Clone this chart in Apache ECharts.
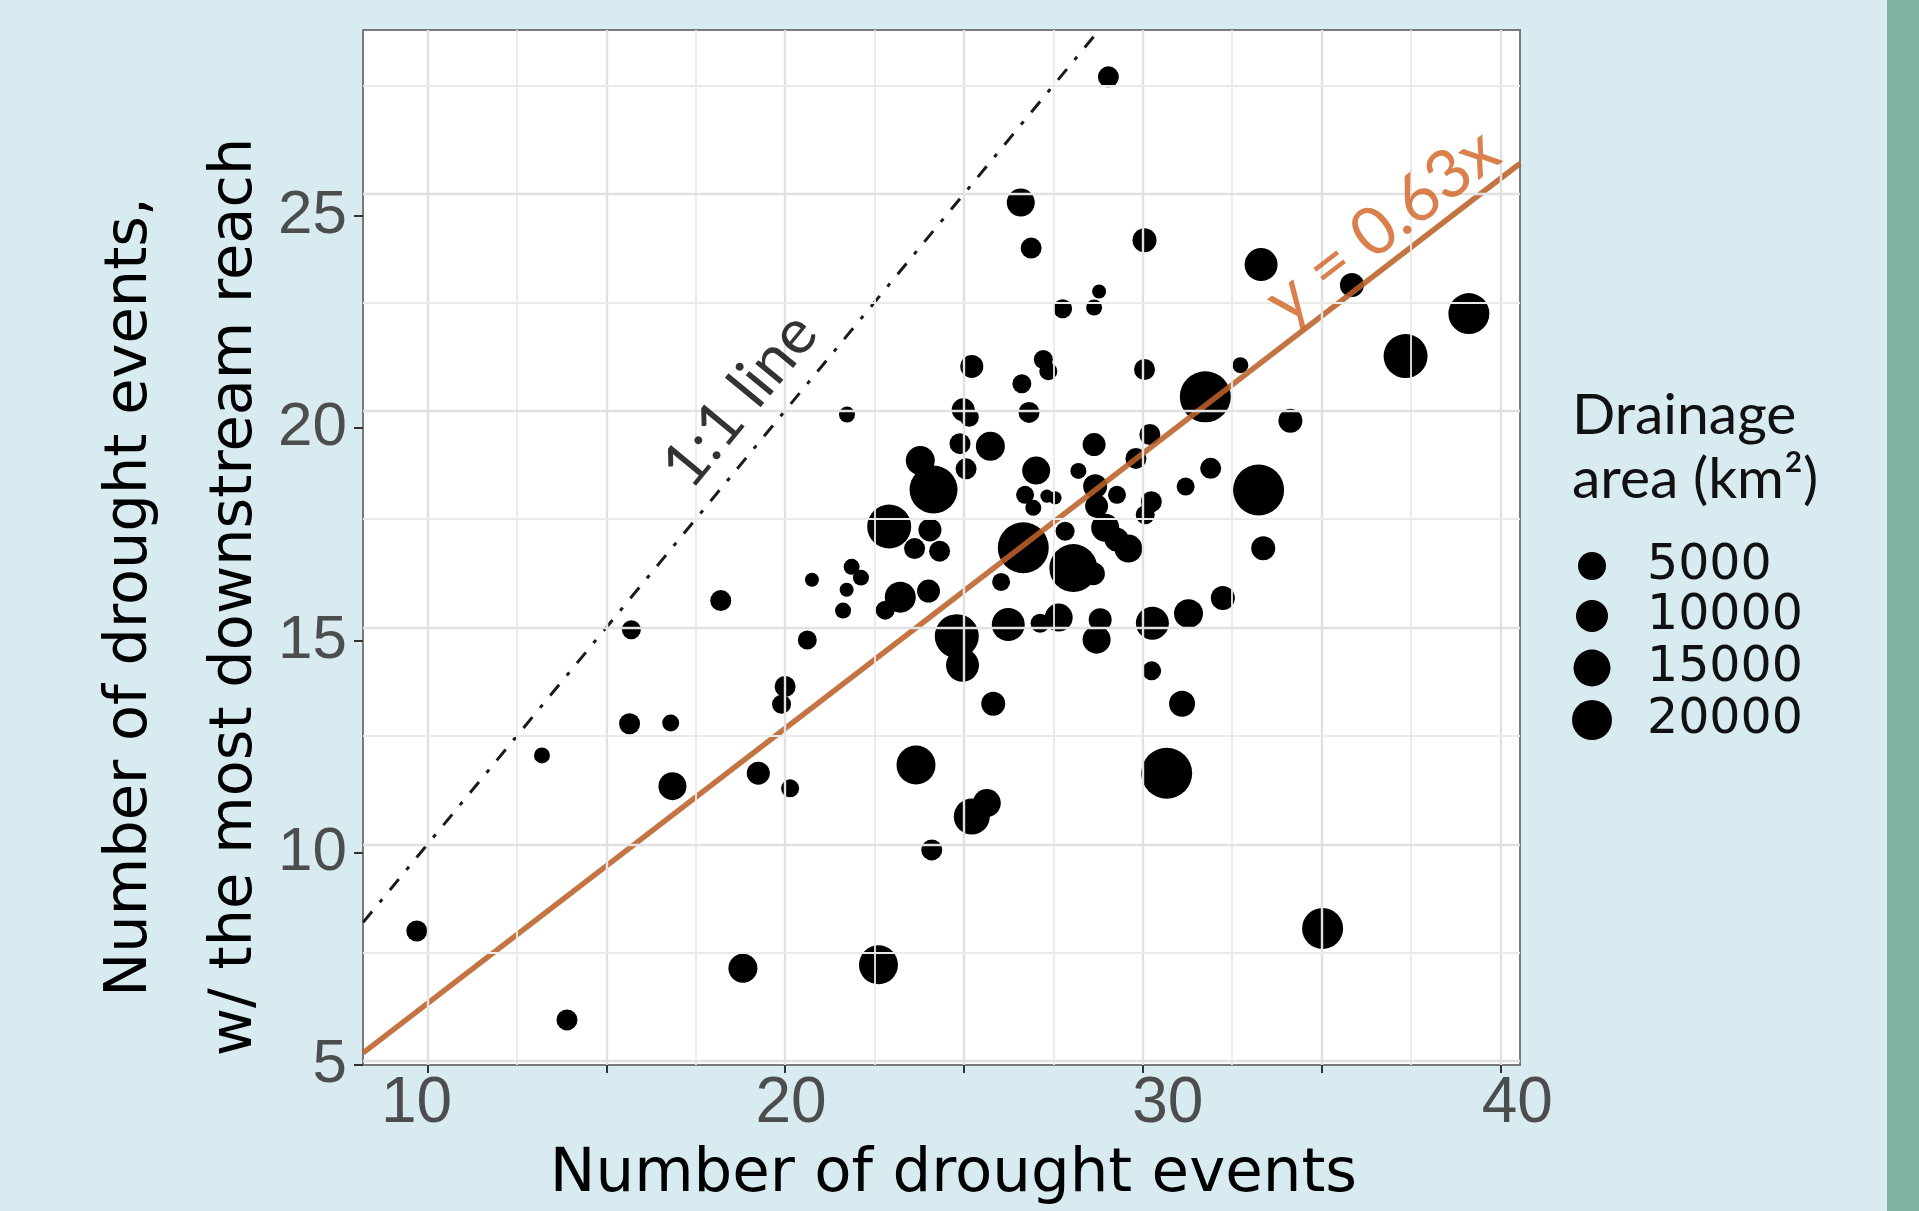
<!DOCTYPE html>
<html>
<head>
<meta charset="utf-8">
<script src="https://cdn.jsdelivr.net/npm/echarts@6/dist/echarts.min.js"></script>
<style>
html,body{margin:0;padding:0;background:#D7EBF0;}
#chart{width:1919px;height:1211px;}
</style>
</head>
<body>
<div id="chart"></div>
<script>
// ---- data ----
const xs = [9.7, 13.2, 13.9, 15.7, 15.65, 16.8, 16.85, 18.2, 18.82, 19.25,
  20.14, 20.0, 19.9, 20.62, 20.75, 21.86, 22.12, 21.72, 21.62, 21.73,
  22.8, 23.22, 24.01, 22.91, 24.05, 23.62, 24.32, 23.78, 24.15, 24.89,
  25.06, 25.74, 24.98, 25.15, 25.22, 23.66, 25.22, 25.64, 24.1, 22.61,
  24.8, 24.96, 25.82, 26.24, 27.13, 27.65, 26.04, 26.66, 28.06, 28.62,
  27.83, 28.95, 29.27, 29.6, 26.71, 26.94, 27.32, 27.55, 27.02, 28.2,
  28.67, 28.71, 28.64, 26.62, 26.82, 27.22, 27.36, 27.76, 28.64, 28.78,
  26.88, 26.59, 29.04, 30.05, 30.05, 30.2, 29.81, 29.28, 30.24, 30.07,
  31.2, 31.9, 31.75, 32.73, 34.13, 33.31, 35.85, 39.12, 37.35, 33.24,
  33.37, 28.81, 28.71, 30.27, 31.28, 32.24, 30.25, 31.1, 30.67, 35.03];
const ys = [8.0, 12.05, 5.95, 14.95, 12.78, 12.8, 11.34, 15.62, 7.14, 11.64,
  11.29, 13.64, 13.23, 14.71, 16.1, 16.4, 16.15, 15.87, 15.39, 19.91,
  15.4, 15.7, 15.84, 17.33, 17.25, 16.82, 16.76, 18.85, 18.18, 19.24,
  18.66, 19.18, 20.02, 19.85, 21.02, 11.83, 10.64, 10.95, 9.87, 7.22,
  14.8, 14.13, 13.24, 15.07, 15.1, 15.23, 16.05, 16.84, 16.37, 16.24,
  17.22, 17.3, 17.03, 16.82, 18.06, 17.76, 18.03, 17.99, 18.62, 18.61,
  18.26, 17.8, 19.22, 20.62, 19.96, 21.18, 20.91, 22.35, 22.38, 22.75,
  23.75, 24.8, 27.7, 23.93, 20.95, 19.45, 18.9, 18.06, 17.9, 17.6,
  18.25, 18.67, 20.32, 21.05, 19.77, 23.37, 22.9, 22.24, 21.26, 18.17,
  16.83, 15.18, 14.72, 15.1, 15.32, 15.68, 14.0, 13.24, 11.64, 8.06];
const areas = [1600, 540, 1600, 1110, 1600, 710, 4010, 1600, 4440, 2180,
  900, 1600, 1110, 1110, 280, 540, 540, 280, 540, 540,
  1110, 5380, 2180, 13610, 2180, 1600, 1600, 4440, 16900, 1600,
  1600, 4440, 2180, 1110, 2180, 10000, 8100, 4010, 1600, 10000,
  13610, 6400, 2500, 6400, 1110, 4010, 900, 19600, 16900, 2180,
  1110, 4010, 2500, 4010, 900, 540, 180, 180, 4010, 540,
  2500, 2180, 2180, 1110, 1600, 1110, 900, 1110, 540, 280,
  1600, 4010, 1600, 2500, 1600, 1600, 1600, 900, 1600, 1110,
  900, 1600, 19600, 540, 2500, 6400, 2500, 11380, 13610, 19600,
  2500, 2180, 4010, 6400, 4440, 2500, 1110, 3210, 19600, 11380];
const xTickValues = [10, 15, 20, 25, 30, 35, 40];
const xLabelValues = [10, 20, 30, 40];
const yTickValues = [5, 10, 15, 20, 25];
const xGridValues = [10, 12.5, 15, 17.5, 20, 22.5, 25, 27.5, 30, 32.5, 35, 37.5, 40];
const yGridValues = [5, 7.5, 10, 12.5, 15, 17.5, 20, 22.5, 25, 27.5];
const legendValues = ['5000', '10000', '15000', '20000'];
const fitLine = [[8.2, 5.19], [40.55, 25.7]];
const oneToOneLine = [[8.2, 8.2], [28.78, 28.78]];
const fitLabel = 'y = 0.63x';
const oneToOneLabel = '1:1 line';
const xTitle = 'Number of drought events';
const yTitle1 = 'Number of drought events,';
const yTitle2 = 'w/ the most downstream reach';
const legendTitle = 'Drainage\narea (km²)';

// ---- styles ----
const legendIconSizes = [28, 32, 37, 40];
const legendRowCenters = [566, 616, 668, 720];
// small label nudges that mimic the reference's label placement
const xLabelPad = {10: [0, 22, 0, 0], 20: [0, 0, 0, 12], 30: [0, 0, 0, 50], 40: [0, 0, 0, 34]};
const tickFont = {fontFamily: 'Liberation Sans', color: '#4d4d4d'};

const chart = echarts.init(document.getElementById('chart'), null, {renderer: 'canvas'});

const scatterData = xs.map((x, i) => [x, ys[i], areas[i]]);

const gridLines = [];
xGridValues.forEach(v => gridLines.push({xAxis: v, lineStyle: {color: v % 5 === 0 ? '#e1e1e1' : '#eaeaea', width: v % 5 === 0 ? 2.4 : 1.8, type: 'solid'}}));
yGridValues.forEach(v => gridLines.push({yAxis: v, lineStyle: {color: v % 5 === 0 ? '#e1e1e1' : '#eaeaea', width: v % 5 === 0 ? 2.4 : 1.8, type: 'solid'}}));

const xRich = {};
xLabelValues.forEach(v => { xRich['x' + v] = Object.assign({fontSize: 64, padding: xLabelPad[v]}, tickFont); });

const legends = legendValues.map((name, i) => ({
  data: [name],
  left: 1592 - legendIconSizes[i] / 2,
  top: legendRowCenters[i] - 24.5,
  orient: 'vertical',
  padding: 0,
  itemWidth: 100,
  itemHeight: legendIconSizes[i],
  icon: 'circle',
  selectedMode: false,
  itemStyle: {color: '#000', opacity: 1, borderWidth: 0},
  textStyle: {fontFamily: 'DejaVu Sans', fontSize: 49, color: '#111', lineHeight: 49}
}));

const option = {
  backgroundColor: '#D7EBF0',
  animation: false,
  title: {
    text: legendTitle,
    left: 1572,
    top: 384,
    padding: 0,
    textStyle: {fontFamily: 'Lato', fontSize: 57, fontWeight: 'normal', color: '#111', lineHeight: 64}
  },
  legend: legends,
  grid: {
    left: 363, top: 30, width: 1157, height: 1035,
    show: true, backgroundColor: '#ffffff', borderColor: '#7a7a7a', borderWidth: 2,
    containLabel: false, outerBoundsMode: 'none'
  },
  xAxis: {
    type: 'value', min: 8.196, max: 40.55,
    axisLine: {show: false},
    splitLine: {show: false},
    axisTick: {show: true, customValues: xTickValues, length: 8, lineStyle: {color: '#333', width: 2}},
    axisLabel: {customValues: xLabelValues, fontFamily: 'Liberation Sans', fontSize: 64, color: '#4d4d4d', margin: 7,
      formatter: v => '{x' + v + '|' + v + '}', rich: xRich},
    name: xTitle,
    nameLocation: 'middle',
    nameGap: 80,
    nameTextStyle: {fontFamily: 'DejaVu Sans', fontSize: 61, color: '#000', padding: [0, 0, 0, 24]}
  },
  yAxis: [
    {
      // data scale (aligned with the panel grid)
      type: 'value', min: 4.91, max: 28.78,
      axisLine: {show: false}, splitLine: {show: false},
      axisTick: {show: false}, axisLabel: {show: false}
    },
    {
      // tick/label layer, placed as in the reference
      type: 'value', position: 'left', min: 5, max: 29.38, interval: 5,
      axisLine: {show: false}, splitLine: {show: false},
      axisTick: {show: true, length: 9, lineStyle: {color: '#333', width: 2}},
      axisLabel: {fontFamily: 'Liberation Sans', fontSize: 62, color: '#4d4d4d', margin: 16, showMaxLabel: false}
    }
  ],
  graphic: [
    {type: 'rect', shape: {x: 1887, y: 0, width: 32, height: 1211}, style: {fill: '#7FB3A0'}, silent: true},
    {type: 'text', x: 131, y: 597, rotation: Math.PI / 2,
      style: {text: yTitle1, font: '59px "DejaVu Sans"', fill: '#000', align: 'center', verticalAlign: 'middle', textAlign: 'center', textVerticalAlign: 'middle'}},
    {type: 'text', x: 236, y: 597, rotation: Math.PI / 2,
      style: {text: yTitle2, font: '59px "DejaVu Sans"', fill: '#000', align: 'center', verticalAlign: 'middle', textAlign: 'center', textVerticalAlign: 'middle'}}
  ],
  series: [
    {
      name: 'grid', type: 'line', data: [], z: 1, silent: true, yAxisIndex: 0,
      markLine: {silent: true, symbol: ['none', 'none'], label: {show: false}, data: gridLines, animation: false}
    },
    {
      name: 'oneToOne', type: 'line', data: oneToOneLine, symbol: 'none', z: 2, silent: true, yAxisIndex: 0,
      lineStyle: {color: '#1a1a1a', width: 3, type: [14, 12, 4, 12]}
    },
    {
      name: 'Drainage area', type: 'scatter', data: scatterData, z: 3, yAxisIndex: 0,
      symbolSize: v => 9 + 0.3 * Math.sqrt(v[2]),
      itemStyle: {color: '#000', opacity: 1}
    },
    {
      name: 'fit', type: 'line', data: fitLine, symbol: 'none', z: 4, silent: true, yAxisIndex: 0,
      lineStyle: {color: '#BC6128', width: 5.5, opacity: 0.88}
    },
    {
      name: 'annotations', type: 'scatter', z: 5, silent: true, symbolSize: 1, yAxisIndex: 0,
      itemStyle: {color: 'rgba(0,0,0,0)'},
      data: [
        {value: [18.74, 20.24], label: {show: true, position: 'inside', formatter: oneToOneLabel, rotate: 50.5,
          fontFamily: 'Lato', fontSize: 63, color: '#000'}},
        {value: [36.7, 24.25], label: {show: true, position: 'inside', formatter: fitLabel, rotate: 37.5,
          fontFamily: 'Lato', fontSize: 67, color: '#D0601F'}}
      ]
    },
    ...legendValues.map(name => ({name: name, type: 'scatter', data: [], yAxisIndex: 0, itemStyle: {color: '#000', opacity: 1}}))
  ]
};
chart.setOption(option);
</script>
</body>
</html>
